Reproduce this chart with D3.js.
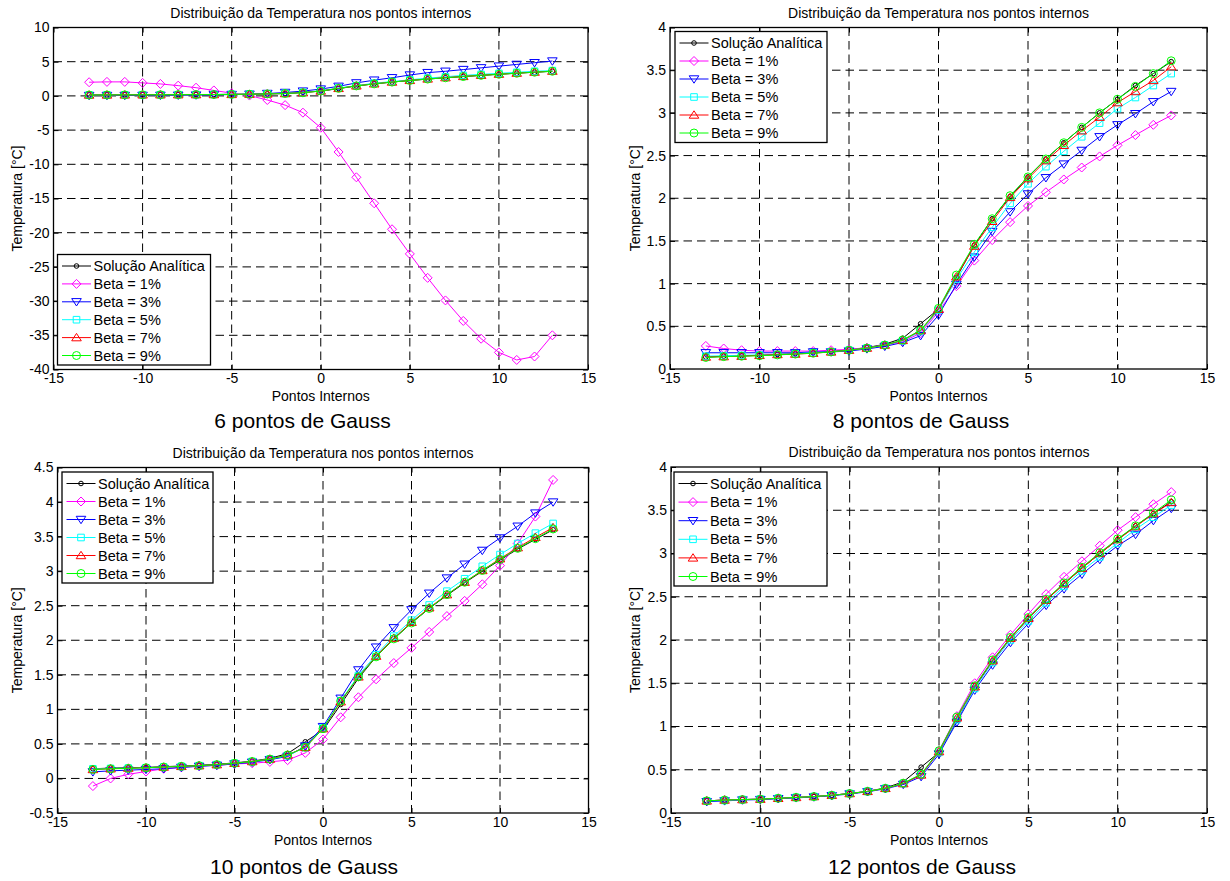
<!DOCTYPE html>
<html>
<head>
<meta charset="utf-8">
<script src="https://cdn.jsdelivr.net/npm/d3@7"></script>
<style>
  body { margin: 0; background: #fff; }
  svg { display: block; }
  text { font-family: "Liberation Sans", Arial, Helvetica, sans-serif; fill: #000; }
</style>
</head>
<body>
<svg id="fig" width="1230" height="881"></svg>
<script>
// Pontos internos (eixo x)
const pontosInternos = [-13,-12,-11,-10,-9,-8,-7,-6,-5,-4,-3,-2,-1,0,1,2,3,4,5,6,7,8,9,10,11,12,13];

// Tick labels
const ticksX = [-15,-10,-5,0,5,10,15];
const ticksY6 = [-40,-35,-30,-25,-20,-15,-10,-5,0,5,10];
const ticksY8 = [0,0.5,1,1.5,2,2.5,3,3.5,4];
const ticksY10 = [-0.5,0,0.5,1,1.5,2,2.5,3,3.5,4,4.5];
const ticksY12 = [0,0.5,1,1.5,2,2.5,3,3.5,4];

// Solução analítica
const analitica = [0.14,0.15,0.155,0.16,0.17,0.18,0.19,0.205,0.225,0.25,0.29,0.36,0.53,0.70,1.07,1.45,1.76,2.02,2.25,2.46,2.65,2.83,3.00,3.16,3.32,3.46,3.60];

// 6 pontos de Gauss
const g6Beta1 = [2.0,2.05,2.05,1.9,1.75,1.5,1.2,0.8,0.4,0.05,-0.6,-1.35,-2.45,-4.65,-8.2,-11.9,-15.7,-19.5,-23.1,-26.6,-29.9,-32.9,-35.5,-37.5,-38.6,-38.1,-35.0];
const g6Beta3 = [0.05,0.05,0.06,0.07,0.08,0.1,0.12,0.16,0.2,0.25,0.35,0.5,0.7,1.0,1.4,1.9,2.3,2.65,3.05,3.4,3.6,3.85,4.1,4.35,4.6,4.85,5.1];
const g6Beta5 = [0.14,0.15,0.16,0.17,0.17,0.18,0.19,0.21,0.23,0.25,0.29,0.36,0.5,0.75,1.15,1.5,1.85,2.1,2.35,2.6,2.8,3.0,3.15,3.3,3.45,3.6,3.7];
const g6Beta7 = [0.13,0.14,0.15,0.16,0.17,0.18,0.19,0.2,0.22,0.25,0.29,0.35,0.47,0.72,1.1,1.47,1.77,2.03,2.27,2.48,2.67,2.85,3.02,3.18,3.33,3.48,3.62];
const g6Beta9 = [0.13,0.14,0.15,0.16,0.17,0.18,0.19,0.2,0.22,0.25,0.29,0.35,0.46,0.71,1.1,1.46,1.76,2.02,2.25,2.46,2.65,2.83,3.0,3.16,3.31,3.46,3.6];

// 8 pontos de Gauss
const g8Beta1 = [0.27,0.24,0.22,0.21,0.21,0.21,0.21,0.22,0.23,0.25,0.28,0.32,0.42,0.67,0.97,1.27,1.51,1.72,1.91,2.07,2.22,2.36,2.49,2.62,2.74,2.86,2.97];
const g8Beta3 = [0.19,0.19,0.19,0.19,0.19,0.19,0.2,0.2,0.21,0.235,0.265,0.31,0.39,0.63,0.99,1.31,1.61,1.84,2.05,2.24,2.40,2.56,2.72,2.86,2.99,3.13,3.25];
const g8Beta5 = [0.15,0.155,0.16,0.165,0.17,0.18,0.19,0.2,0.22,0.245,0.28,0.33,0.44,0.69,1.05,1.37,1.66,1.94,2.17,2.37,2.55,2.72,2.88,3.05,3.18,3.32,3.46];
const g8Beta7 = [0.14,0.145,0.15,0.16,0.17,0.175,0.185,0.2,0.22,0.245,0.28,0.335,0.45,0.70,1.08,1.44,1.73,2.01,2.23,2.44,2.62,2.79,2.95,3.12,3.25,3.38,3.54];
const g8Beta9 = [0.135,0.145,0.15,0.155,0.165,0.175,0.185,0.2,0.22,0.245,0.28,0.34,0.455,0.71,1.10,1.46,1.76,2.03,2.25,2.46,2.65,2.83,3.00,3.16,3.31,3.46,3.61];

// 10 pontos de Gauss
const g10Beta1 = [-0.11,0.0,0.06,0.10,0.14,0.16,0.18,0.19,0.21,0.22,0.24,0.265,0.37,0.565,0.885,1.175,1.435,1.67,1.89,2.12,2.35,2.57,2.81,3.08,3.40,3.79,4.32];
const g10Beta3 = [0.095,0.11,0.12,0.13,0.14,0.16,0.175,0.19,0.21,0.235,0.27,0.32,0.47,0.75,1.16,1.57,1.90,2.18,2.44,2.68,2.90,3.10,3.30,3.48,3.65,3.84,4.00];
const g10Beta5 = [0.14,0.145,0.15,0.155,0.165,0.175,0.185,0.2,0.22,0.245,0.28,0.33,0.45,0.73,1.12,1.49,1.79,2.06,2.29,2.51,2.71,2.89,3.07,3.24,3.40,3.55,3.69];
const g10Beta7 = [0.13,0.14,0.15,0.155,0.165,0.175,0.185,0.2,0.22,0.245,0.28,0.34,0.45,0.72,1.11,1.47,1.77,2.03,2.26,2.47,2.66,2.84,3.01,3.18,3.34,3.49,3.63];
const g10Beta9 = [0.13,0.14,0.145,0.155,0.165,0.175,0.185,0.2,0.22,0.245,0.28,0.34,0.45,0.72,1.12,1.47,1.76,2.02,2.25,2.46,2.66,2.84,3.01,3.17,3.33,3.47,3.61];

// 12 pontos de Gauss
const g12Beta1 = [0.14,0.15,0.155,0.16,0.17,0.18,0.19,0.205,0.225,0.25,0.285,0.34,0.44,0.72,1.12,1.50,1.80,2.06,2.30,2.53,2.73,2.91,3.09,3.27,3.42,3.57,3.71];
const g12Beta3 = [0.13,0.14,0.15,0.155,0.165,0.175,0.185,0.2,0.22,0.245,0.28,0.33,0.42,0.68,1.05,1.42,1.71,1.97,2.19,2.40,2.59,2.76,2.93,3.09,3.22,3.38,3.52];
const g12Beta5 = [0.14,0.145,0.155,0.16,0.17,0.18,0.19,0.205,0.225,0.25,0.285,0.34,0.44,0.70,1.08,1.44,1.74,2.00,2.22,2.43,2.62,2.80,2.96,3.12,3.28,3.42,3.56];
const g12Beta7 = [0.14,0.15,0.155,0.16,0.17,0.18,0.19,0.205,0.225,0.25,0.285,0.34,0.44,0.71,1.10,1.46,1.76,2.02,2.25,2.46,2.65,2.83,3.00,3.16,3.31,3.46,3.59];
const g12Beta9 = [0.14,0.15,0.155,0.16,0.17,0.18,0.19,0.205,0.225,0.25,0.285,0.345,0.45,0.72,1.11,1.47,1.77,2.03,2.26,2.47,2.66,2.84,3.01,3.17,3.32,3.47,3.62];

// Nomes, cores e marcadores das curvas
const nomesSeries = ["Solução Analítica", "Beta = 1%", "Beta = 3%", "Beta = 5%", "Beta = 7%", "Beta = 9%"];
const coresSeries = ["#000000", "#ff00ff", "#0000ff", "#00ffff", "#ff0000", "#00ff00"];
const marcadoresSeries = ["circuloPequeno", "diamante", "trianguloBaixo", "quadrado", "trianguloCima", "circulo"];

const paineis = [
  { legenda: "6 pontos de Gauss", series: [analitica, g6Beta1, g6Beta3, g6Beta5, g6Beta7, g6Beta9],
    yDom: [-40, 10], yTicks: ticksY6,
    box: { x0: 53.5, x1: 588, y0: 27.5, y1: 369.5 },
    leg: { x: 57.5, y: 254.5, w: 153, passo: 17.9 },
    yLabelX: 16.5, capX: 302.5, capY: 427.5 },
  { legenda: "8 pontos de Gauss", series: [analitica, g8Beta1, g8Beta3, g8Beta5, g8Beta7, g8Beta9],
    yDom: [0, 4], yTicks: ticksY8,
    box: { x0: 670, x1: 1207, y0: 27.5, y1: 369 },
    leg: { x: 675, y: 31.5, w: 152, passo: 18 },
    yLabelX: 634.5, capX: 921, capY: 427.5 },
  { legenda: "10 pontos de Gauss", series: [analitica, g10Beta1, g10Beta3, g10Beta5, g10Beta7, g10Beta9],
    yDom: [-0.5, 4.5], yTicks: ticksY10,
    box: { x0: 57.5, x1: 588.5, y0: 467.5, y1: 813 },
    leg: { x: 62, y: 472, w: 151, passo: 18 },
    yLabelX: 16.5, capX: 304, capY: 874 },
  { legenda: "12 pontos de Gauss", series: [analitica, g12Beta1, g12Beta3, g12Beta5, g12Beta7, g12Beta9],
    yDom: [0, 4], yTicks: ticksY12,
    box: { x0: 671, x1: 1207, y0: 467, y1: 813 },
    leg: { x: 674, y: 472, w: 153, passo: 18.6 },
    yLabelX: 634.5, capX: 922, capY: 874 }
];

// Formas dos marcadores (estilo MATLAB, sem preenchimento)
function marcadorPath(tipo) {
  switch (tipo) {
    case "diamante": return "M0,-4.5L4.5,0L0,4.5L-4.5,0Z";
    case "trianguloBaixo": return "M-4.8,-3.2L4.8,-3.2L0,4.2Z";
    case "trianguloCima": return "M-4.8,3.2L4.8,3.2L0,-4.2Z";
    case "quadrado": return "M-3.3,-3.3H3.3V3.3H-3.3Z";
    case "circulo": return d3.symbol(d3.symbolCircle, Math.PI * 4 * 4)();
    case "circuloPequeno": return d3.symbol(d3.symbolCircle, Math.PI * 2.3 * 2.3)();
  }
}

const svg = d3.select("#fig");
const fmt = d => String(d);
const FONTE = 14;
const FONTE_LEG = 14.5;

paineis.forEach(p => {
  const b = p.box;
  const x = d3.scaleLinear().domain([-15, 15]).range([b.x0, b.x1]);
  const y = d3.scaleLinear().domain(p.yDom).range([b.y1, b.y0]);
  const g = svg.append("g");

  // fundo
  g.append("rect").attr("x", b.x0).attr("y", b.y0).attr("width", b.x1 - b.x0).attr("height", b.y1 - b.y0)
    .attr("fill", "#fff");

  // grade tracejada
  const grade = g.append("g").attr("stroke", "#000").attr("stroke-width", 1).attr("stroke-dasharray", "8.5,5").attr("fill", "none");
  ticksX.slice(1, -1).forEach(t => {
    grade.append("line").attr("x1", x(t)).attr("x2", x(t)).attr("y1", b.y0).attr("y2", b.y1);
  });
  p.yTicks.slice(1, -1).forEach(t => {
    grade.append("line").attr("x1", b.x0).attr("x2", b.x1).attr("y1", y(t)).attr("y2", y(t));
  });

  // eixos com marcas para dentro
  const axB = g.append("g").attr("transform", `translate(0,${b.y1})`)
    .call(d3.axisBottom(x).tickValues(ticksX).tickFormat(fmt).tickSize(-5).tickPadding(4));
  const axT = g.append("g").attr("transform", `translate(0,${b.y0})`)
    .call(d3.axisTop(x).tickValues(ticksX).tickFormat("").tickSize(-5));
  const axL = g.append("g").attr("transform", `translate(${b.x0},0)`)
    .call(d3.axisLeft(y).tickValues(p.yTicks).tickFormat(fmt).tickSize(-5).tickPadding(4));
  const axR = g.append("g").attr("transform", `translate(${b.x1},0)`)
    .call(d3.axisRight(y).tickValues(p.yTicks).tickFormat("").tickSize(-5));
  [axB, axT, axL, axR].forEach(a => {
    a.select(".domain").remove();
    a.selectAll("line").attr("stroke", "#000");
    a.selectAll("text").attr("font-size", FONTE).attr("font-family", null).attr("fill", "#000");
  });

  // curvas
  const linha = d3.line().x((d, i) => x(pontosInternos[i])).y(d => y(d));
  p.series.forEach((s, k) => {
    g.append("path").attr("d", linha(s)).attr("fill", "none").attr("stroke", coresSeries[k]).attr("stroke-width", 1);
    g.append("g").selectAll("path").data(s).join("path")
      .attr("transform", (d, i) => `translate(${x(pontosInternos[i])},${y(d)})`)
      .attr("d", marcadorPath(marcadoresSeries[k]))
      .attr("fill", "none").attr("stroke", coresSeries[k]).attr("stroke-width", 1);
  });

  // moldura
  g.append("rect").attr("x", b.x0).attr("y", b.y0).attr("width", b.x1 - b.x0).attr("height", b.y1 - b.y0)
    .attr("fill", "none").attr("stroke", "#000").attr("stroke-width", 1.3);

  // legenda
  const L = p.leg;
  const alturaLeg = L.passo * 5 + 21;
  const gl = g.append("g").attr("transform", `translate(${L.x},${L.y})`);
  gl.append("rect").attr("width", L.w).attr("height", alturaLeg).attr("fill", "#fff").attr("stroke", "#000").attr("stroke-width", 1.3);
  nomesSeries.forEach((nome, k) => {
    const cy = 11.5 + k * L.passo;
    gl.append("line").attr("x1", 4.5).attr("x2", 33.5).attr("y1", cy).attr("y2", cy)
      .attr("stroke", coresSeries[k]).attr("stroke-width", 1);
    gl.append("path").attr("transform", `translate(19,${cy})`).attr("d", marcadorPath(marcadoresSeries[k]))
      .attr("fill", "none").attr("stroke", coresSeries[k]).attr("stroke-width", 1);
    gl.append("text").attr("x", 36).attr("y", cy + 5).attr("font-size", FONTE_LEG).text(nome);
  });

  // títulos e rótulos
  const cx = (b.x0 + b.x1) / 2;
  g.append("text").attr("x", cx).attr("y", b.y0 - 10).attr("text-anchor", "middle").attr("font-size", FONTE)
    .text("Distribuição da Temperatura nos pontos internos");
  g.append("text").attr("x", cx).attr("y", b.y1 + 31.5).attr("text-anchor", "middle").attr("font-size", FONTE)
    .text("Pontos Internos");
  g.append("text").attr("transform", `translate(${p.yLabelX + 5},${(b.y0 + b.y1) / 2}) rotate(-90)`)
    .attr("text-anchor", "middle").attr("font-size", FONTE).text("Temperatura [°C]");
  g.append("text").attr("x", p.capX).attr("y", p.capY).attr("text-anchor", "middle").attr("font-size", 21)
    .text(p.legenda);
});
</script>
</body>
</html>
